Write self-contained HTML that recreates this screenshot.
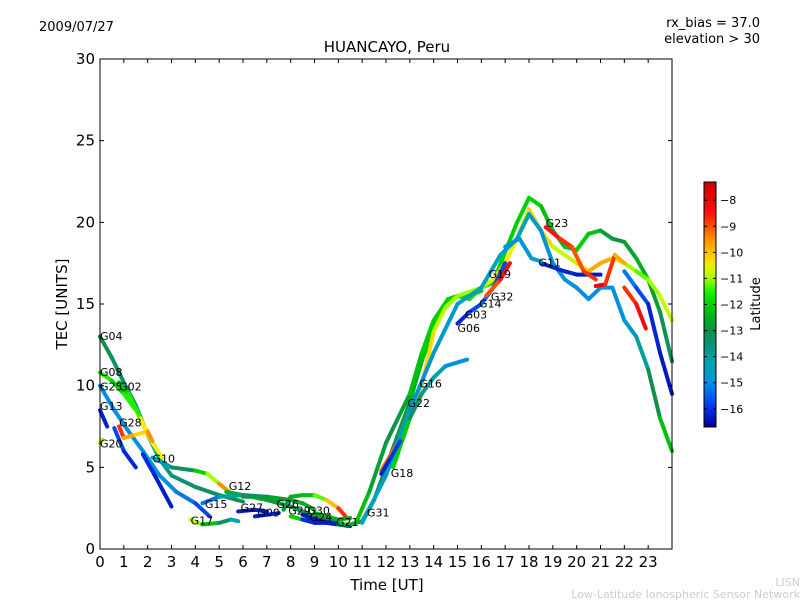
<!DOCTYPE html>
<html><head><meta charset="utf-8"><style>
body{margin:0;background:#fff;}
svg{display:block;font-family:"DejaVu Sans","Liberation Sans",sans-serif;}
</style></head><body>
<svg id="chart" width="800" height="600">
<defs>
<linearGradient id="jet" x1="0" y1="1" x2="0" y2="0"></linearGradient>
</defs>
<text x="39" y="31" font-size="13">2009/07/27</text>
<text x="760" y="27" font-size="13" text-anchor="end">rx_bias = 37.0</text>
<text x="760" y="43" font-size="13" text-anchor="end">elevation &gt; 30</text>
<text x="387" y="52" font-size="15" text-anchor="middle">HUANCAYO, Peru</text>
<text x="387" y="590" font-size="15" text-anchor="middle">Time [UT]</text>
<text transform="translate(67,304) rotate(-90)" font-size="15" text-anchor="middle">TEC [UNITS]</text>
<text x="800" y="586" font-size="11" fill="#ccc" text-anchor="end">LISN</text>
<text x="800" y="598" font-size="11" fill="#ccc" text-anchor="end">Low-Latitude Ionospheric Sensor Network</text>
<g id="marks"></g>
<g id="axes"></g>
<rect x="704" y="182" width="12" height="245" fill="url(#jet)" stroke="#000"/>
<g id="cbar"></g>
<text transform="translate(760,304) rotate(-90)" font-size="13" text-anchor="middle">Latitude</text>
</svg>
<script>
const xTicks=[0,1,2,3,4,5,6,7,8,9,10,11,12,13,14,15,16,17,18,19,20,21,22,23];
const yTicks=[0,5,10,15,20,25,30];
const cbTicks=[-8,-9,-10,-11,-12,-13,-14,-15,-16];
const tracks=[
{t:[0,0.5,1,1.5,2,2.5,3,4,5,6],v:[13,11.7,10.2,8.8,7,5.5,4.5,3.8,3.3,2.9],lat:[-13,-13,-13.5,-13.5,-14,-14,-13.5,-13.5,-13,-13]},
{t:[0,0.5,1,1.5,2,2.3],v:[10.8,10.3,9.5,8.5,7,6.3],lat:[-11,-12,-12,-11,-10,-9]},
{t:[0.8,1.2,1.7,2.2,2.6],v:[10.2,9.5,8,6.5,5.6],lat:[-12,-12,-11,-10,-11]},
{t:[0,0.6,1.2,1.8,2.5,3.2,4,4.6],v:[10,8.5,7.2,6,4.5,3.5,2.8,2],lat:[-15,-15,-15,-15,-15,-15,-15.5,-16]},
{t:[0,0.3],v:[8.5,7.5],lat:[-16.2,-16.2]},
{t:[0.6,1,1.5],v:[7.4,6,5],lat:[-15.5,-16,-16.2]},
{t:[0.8,1,1.5,2,2.2],v:[7.5,6.8,7,7.2,6.6],lat:[-8,-9.5,-10,-10.5,-8.5]},
{t:[0,0.1],v:[6.5,6.7],lat:[-11,-11]},
{t:[1.8,2.3,3],v:[5.8,4.5,2.6],lat:[-16,-16.2,-16.3]},
{t:[2.2,3,4,4.5,5,5.5,6,7,7.5],v:[5.6,5,4.8,4.6,4,3.4,3.2,3.2,3],lat:[-14.5,-14,-12.5,-11.5,-10.5,-8.5,-13,-13,-13]},
{t:[5.3,6,7,8,8.5,9,10],v:[3.5,3.3,3,2.6,2.3,2,1.7],lat:[-12.5,-12.5,-12.5,-13,-13,-13,-13]},
{t:[4.3,5,6,7,8,8.5,9],v:[2.8,3.2,3.3,3.2,3,2.8,2.4],lat:[-16,-14.5,-13.5,-13,-12.5,-12.5,-12.5]},
{t:[3.8,4.3,5,5.5,5.8],v:[1.8,1.5,1.6,1.8,1.7],lat:[-10,-12,-12.5,-14,-15]},
{t:[5.8,6.5,7],v:[2.3,2.4,2.3],lat:[-16.3,-16.3,-16.3]},
{t:[6.5,7,7.5],v:[2,2.1,2.2],lat:[-16.3,-16.3,-16]},
{t:[7.7,8,8.5,9,9.5,10,10.3],v:[2.4,3.2,3.3,3.3,3,2.5,2],lat:[-13,-12.5,-12.5,-12,-10.5,-9.5,-8]},
{t:[8,8.5,9,9.5,10],v:[2,1.8,1.6,1.6,1.5],lat:[-8,-16,-16.2,-16.2,-16.2]},
{t:[8.5,9,10,10.5],v:[2.1,1.8,1.5,1.4],lat:[-16.3,-16.3,-16.3,-16.3]},
{t:[9,9.5,10,10.5],v:[2.2,2,1.8,1.9],lat:[-12.5,-12.5,-12.5,-12.5]},
{t:[10,10.5,11,11.5,12,12.5,13,13.5,14,14.5,15,15.5,16],v:[1.5,1.5,1.7,3,5,7,9,11.5,13.5,14.8,15.5,15.5,15.8],lat:[-12.5,-12.5,-12.5,-13,-13,-13,-12.5,-12.5,-12,-12,-12.5,-12.5,-12]},
{t:[10.8,11.3,12,12.5,13,13.5,14,14.6,15,15.5,16,16.5,17,17.5,18,18.5,19,19.5,20,20.5,21,21.5,22,22.5,23,23.5,24],v:[1.8,3.5,6.5,8,9.5,12,14,15.3,15.5,15.3,16,16.3,18.2,20,21.5,21,19.5,18.5,18.3,19.3,19.5,19,18.8,17.8,16.5,14.5,11.5],lat:[-12,-12.5,-13,-13,-12.5,-12,-12,-12,-12,-11.8,-11.8,-12,-12,-12,-12,-12,-12.5,-12.5,-12,-12,-12.5,-13,-13,-12.5,-12.5,-13,-13.5]},
{t:[11.8,12.5,13,13.5,14,14.5,15,16,16.5,17,17.5,18,18.5,19,19.5,20,20.5,21,21.5,22,22.5,23,23.5,24],v:[4.8,6.5,8.5,10,13.3,14.8,15.5,16,16.5,17.5,19,20.8,19.5,18.5,18,17.5,17,17.5,17.8,17.5,17,16.5,15.5,14],lat:[-9,-9.5,-10.5,-10,-10.5,-11,-11,-11,-10.5,-10,-11,-10.5,-10,-10.5,-11,-10.5,-10,-9.5,-10,-11,-11,-11.5,-10.5,-11]},
{t:[11,12,13,14,15,16,16.8,17.5,18,18.5,19,19.5,20,20.5,21,21.5,22,22.5,23,23.5,24],v:[1.6,4.5,8.5,12,15,16,18,19,20.5,19.5,17.5,16.5,16,15.3,16,16,14,13,11,8,6],lat:[-14.5,-14.5,-15,-14.8,-14.5,-14.5,-14.5,-14.5,-14.5,-14.8,-15,-15,-15,-15,-15,-15,-14.8,-14.5,-13.5,-12.5,-12]},
{t:[12.3,13,13.5,14,14.5,15.4],v:[5,8,9.5,10.5,11.2,11.6],lat:[-11,-13,-13.8,-14,-14.5,-15.5]},
{t:[11.8,12.2,12.6],v:[4.6,5.6,6.6],lat:[-16.3,-16,-15.8]},
{t:[15,15.5,16,16.5,17],v:[13.8,14.5,15,16,17.5],lat:[-16.3,-16,-15.5,-15.5,-16]},
{t:[16.2,16.8,17.2],v:[15.5,16.5,17.5],lat:[-9.5,-8.5,-8]},
{t:[18.5,19.5,20,20.5,21],v:[17.5,17,16.8,16.8,16.8],lat:[-16.3,-16,-16.3,-16.3,-16.3]},
{t:[18.7,19.3,19.8,20.3,20.8],v:[19.7,19,18.5,17,16.5],lat:[-8,-9,-8.5,-9.5,-8]},
{t:[20.8,21.2,21.6,22],v:[16.1,16.2,18,17.5],lat:[-8,-8,-9.5,-10]},
{t:[22,22.5,23,23.5,24],v:[17,16,15,12,9.5],lat:[-15,-15.5,-16,-16.3,-16.3]},
{t:[22,22.5,22.9],v:[16,15,13.5],lat:[-9,-8.5,-8]},
{t:[17,17.6,18.1,18.5],v:[18.5,19,17.8,17.6],lat:[-15,-15,-14.5,-14.5]}
];
const labelNames=["G04","G08","G25","G02","G13","G28","G20","G10","G12","G15","G17","G27","G09","G26","G29","G30","G24","G21","G31","G18","G22","G16","G06","G03","G14","G32","G19","G23","G11"];
const labelT=[0,0,0,0.8,0,0.8,0,2.2,5.4,4.4,3.8,5.9,6.6,7.4,7.9,8.7,8.8,9.9,11.2,12.2,12.9,13.4,15.0,15.3,15.9,16.4,16.3,18.7,18.4];
const labelV=[12.8,10.6,9.7,9.7,8.5,7.5,6.2,5.3,3.6,2.5,1.5,2.3,2.0,2.5,2.1,2.1,1.7,1.4,2.0,4.4,8.7,9.9,13.3,14.1,14.8,15.2,16.6,19.7,17.3];

const NS="http://www.w3.org/2000/svg";
const X0=100,X1=672,Y0=549,Y1=59;
const xs=t=>X0+(X1-X0)*t/24;
const ys=v=>Y0-(Y0-Y1)*v/30;
const LMIN=-16.7,LMAX=-7.3;
const cmapLat=[-16.7,-16,-15.5,-15,-14.5,-14,-13.5,-13,-12.5,-12,-11.5,-11,-10.5,-10,-9.5,-9,-8.5,-7.3];
const cmapCol=[[0,0,140],[0,48,230],[0,96,240],[0,144,224],[0,160,192],[0,160,160],[16,144,112],[16,144,74],[0,176,32],[0,208,0],[32,240,0],[160,255,0],[240,240,0],[255,192,0],[255,144,0],[255,80,0],[255,16,16],[200,0,0]];
function jet(lat){
 lat=Math.max(LMIN,Math.min(LMAX,lat));
 for(let i=0;i<cmapLat.length-1;i++){
  if(lat<=cmapLat[i+1]){const f=(lat-cmapLat[i])/(cmapLat[i+1]-cmapLat[i]);
   const c=cmapCol[i].map((a,j)=>Math.round(a+(cmapCol[i+1][j]-a)*f));
   return `rgb(${c[0]},${c[1]},${c[2]})`;}}
 return 'rgb(200,0,0)';}
const grad=document.getElementById('jet');
cmapLat.forEach((l,i)=>{const s=document.createElementNS(NS,'stop');
 s.setAttribute('offset',(l-LMIN)/(LMAX-LMIN));
 s.setAttribute('stop-color',`rgb(${cmapCol[i].join(',')})`);grad.appendChild(s);});
const marks=document.getElementById('marks');
tracks.forEach((tr,i)=>{
 const g=document.createElementNS(NS,'g');
 
 
 for(let k=0;k<tr.t.length-1;k++){
  const l=document.createElementNS(NS,'line');
  
  
  l.setAttribute('x1',xs(tr.t[k]));l.setAttribute('y1',ys(tr.v[k]));
  l.setAttribute('x2',xs(tr.t[k+1]));l.setAttribute('y2',ys(tr.v[k+1]));
  l.setAttribute('stroke',jet((tr.lat[k]+tr.lat[k+1])/2));
  l.setAttribute('stroke-width','4');l.setAttribute('stroke-linecap','round');
  g.appendChild(l);}
 marks.appendChild(g);});
labelNames.forEach((n,i)=>{
 const t=document.createElementNS(NS,'text');
 
 
 t.setAttribute('x',xs(labelT[i]));t.setAttribute('y',ys(labelV[i]));
 t.setAttribute('font-size','11');t.textContent=n;marks.appendChild(t);});
const axes=document.getElementById('axes');
function add(parent,tag,attrs,txt){const e=document.createElementNS(NS,tag);for(const k in attrs)e.setAttribute(k,attrs[k]);if(txt!==undefined)e.textContent=txt;parent.appendChild(e);return e;}
const frame=add(axes,'rect',{x:X0,y:Y1,width:X1-X0,height:Y0-Y1,fill:'none',stroke:'#000'});


xTicks.forEach(t=>{
 const x=xs(t);
 const a=add(axes,'path',{d:`M${x},${Y0}v-4M${x},${Y1}v4`,stroke:'#000'});
 
 
 const lb=add(axes,'text',{x:x,y:Y0+18,'font-size':15,'text-anchor':'middle'},String(t));
 
 });
yTicks.forEach(v=>{
 const y=ys(v);
 const a=add(axes,'path',{d:`M${X0},${y}h4M${X1},${y}h-4`,stroke:'#000'});
 
 
 const lb=add(axes,'text',{x:X0-5,y:y+5,'font-size':15,'text-anchor':'end'},String(v));
 
 });
const cb=document.getElementById('cbar');
const cy=l=>427-245*(l-LMIN)/(LMAX-LMIN);
cbTicks.forEach(l=>{
 const y=cy(l);
 const a=add(cb,'path',{d:`M704,${y}h3M716,${y}h-3`,stroke:'#000'});
 
 
 const lb=add(cb,'text',{x:720,y:y+4,'font-size':11},'\u2212'+Math.abs(l));
 
 });
</script>
</body></html>
